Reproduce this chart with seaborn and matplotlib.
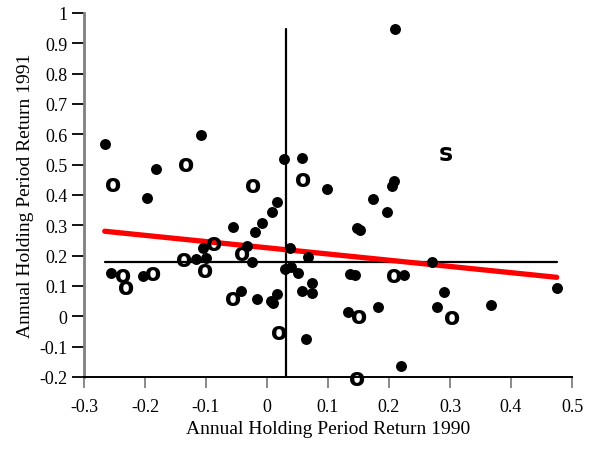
import seaborn as sns
import pandas as pd
import matplotlib.pyplot as plt

# filled dots: (return 1990, return 1991)
dot_x = [-0.266, -0.182, -0.108, -0.197, 0.028, 0.057, 0.098, 0.017, 0.210, 0.208,
         0.205, 0.173, 0.197, 0.147, 0.152, 0.067, 0.271, 0.136, 0.145, 0.225,
         0.073, 0.057, 0.073, 0.290, 0.475, 0.132, 0.182, 0.278, 0.367, 0.064,
         0.220, 0.008, -0.008, -0.056, -0.019, -0.032, -0.024, -0.105, -0.116, -0.100,
         -0.255, -0.204, 0.038, 0.030, 0.039, 0.051, -0.042, -0.016, 0.006, 0.010,
         0.016]
dot_y = [0.569, 0.487, 0.599, 0.390, 0.520, 0.521, 0.420, 0.378, 0.948, 0.446,
         0.430, 0.388, 0.345, 0.290, 0.284, 0.197, 0.179, 0.141, 0.136, 0.136,
         0.111, 0.083, 0.077, 0.081, 0.092, 0.015, 0.032, 0.031, 0.039, -0.076,
         -0.164, 0.345, 0.309, 0.296, 0.279, 0.232, 0.180, 0.226, 0.188, 0.191,
         0.144, 0.133, 0.226, 0.157, 0.164, 0.144, 0.084, 0.056, 0.051, 0.045,
         0.073]

# points marked with the letter "o"
o_x = [-0.252, -0.133, -0.022, 0.060, -0.087, -0.040, -0.136, -0.101, -0.236,
       -0.231, -0.187, -0.055, 0.020, 0.208, 0.151, 0.304, 0.147]
o_y = [0.435, 0.501, 0.433, 0.452, 0.243, 0.208, 0.188, 0.153, 0.136,
       0.098, 0.144, 0.062, -0.051, 0.136, 0.001, -0.001, -0.202]

# point marked with the letter "s"
s_x = [0.293]
s_y = [0.537]

# reference lines
mean_x = 0.031
mean_y = 0.178
fit_intercept = 0.226
fit_slope = -0.205

x_ticks = [-0.3, -0.2, -0.1, 0, 0.1, 0.2, 0.3, 0.4, 0.5]
x_tick_labels = ['-0.3', '-0.2', '-0.1', '0', '0.1', '0.2', '0.3', '0.4', '0.5']
y_ticks = [-0.2, -0.1, 0, 0.1, 0.2, 0.3, 0.4, 0.5, 0.6, 0.7, 0.8, 0.9, 1]
y_tick_labels = ['-0.2', '-0.1', '0', '0.1', '0.2', '0.3', '0.4', '0.5', '0.6',
                 '0.7', '0.8', '0.9', '1']

sns.set_style('white')
plt.rcParams['font.family'] = ['Liberation Serif', 'DejaVu Serif']
plt.rcParams['axes.unicode_minus'] = False
plt.rcParams['text.color'] = 'black'
plt.rcParams['axes.labelcolor'] = 'black'
plt.rcParams['xtick.labelcolor'] = 'black'
plt.rcParams['ytick.labelcolor'] = 'black'

dots = pd.DataFrame({'x': dot_x, 'y': dot_y})
all_x = dot_x + o_x + s_x
all_y = dot_y + o_y + s_y
x_lo, x_hi = min(all_x), max(all_x)
y_lo, y_hi = min(all_y), max(all_y)

fig = plt.figure(figsize=(5.95, 4.52), dpi=100)
ax = fig.add_axes([84 / 595, 74 / 452, 488 / 595, 364 / 452])

# mean cross-hair
ax.plot([x_lo, x_hi], [mean_y, mean_y], color='black', lw=1.6, zorder=1)
ax.plot([mean_x, mean_x], [y_lo, y_hi], color='black', lw=1.6, zorder=1)

# fitted line
fit = pd.DataFrame({'x': [x_lo, x_hi]})
fit['y'] = fit_intercept + fit_slope * fit['x']
sns.lineplot(data=fit, x='x', y='y', ax=ax, color='red', lw=3.8, zorder=2)

sns.scatterplot(data=dots, x='x', y='y', ax=ax, color='black', s=62,
                linewidth=0, zorder=3)

for xx, yy in zip(o_x, o_y):
    ax.text(xx, yy, 'o', ha='center', va='center', fontsize=17, color='black',
            fontweight='bold', family='DejaVu Sans', zorder=4)
for xx, yy in zip(s_x, s_y):
    ax.text(xx, yy, 's', ha='center', va='center', fontsize=17, color='black',
            fontweight='bold', family='DejaVu Sans', zorder=4)

ax.set_xlim(-0.3, 0.5)
ax.set_ylim(-0.2, 1.0)
ax.set_xticks(x_ticks)
ax.set_xticklabels(x_tick_labels)
ax.set_yticks(y_ticks)
ax.set_yticklabels(y_tick_labels)

ax.spines['top'].set_visible(False)
ax.spines['right'].set_visible(False)
ax.spines['left'].set_color('#808080')
ax.spines['left'].set_linewidth(2)
ax.spines['bottom'].set_color('black')
ax.spines['bottom'].set_linewidth(1.4)
ax.tick_params(axis='x', direction='out', length=8, width=1.3, color='#808080',
               labelsize=13, pad=7, bottom=True)
ax.tick_params(axis='y', direction='out', length=8.5, width=1.3, color='black',
               labelsize=13, pad=3.5, left=True)

ax.set_xlabel('Annual Holding Period Return 1990', fontsize=14, labelpad=4)
ax.set_ylabel('Annual Holding Period Return 1991', fontsize=14, labelpad=4)

fig.savefig('out.png', dpi=100)
